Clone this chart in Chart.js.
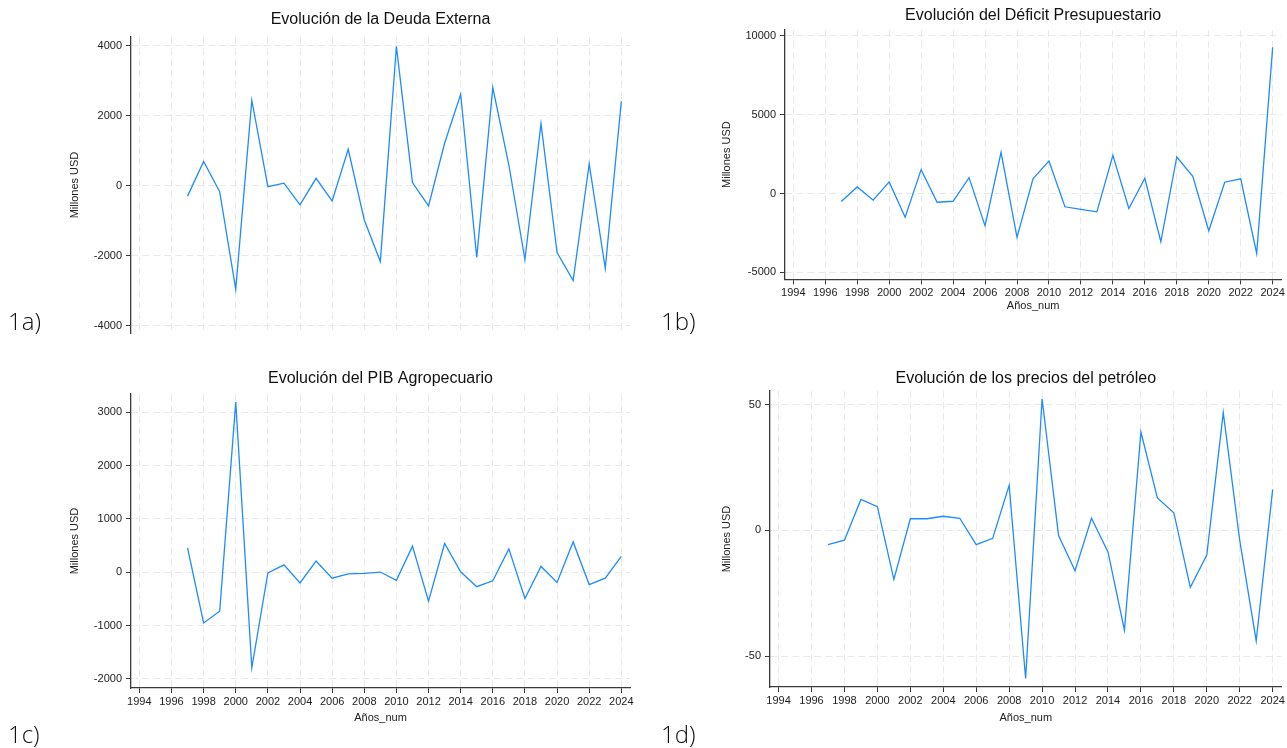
<!DOCTYPE html>
<html>
<head>
<meta charset="utf-8">
<script src="https://cdn.jsdelivr.net/npm/chart.js@4.4.1/dist/chart.umd.min.js"></script>
<style>
html,body{margin:0;padding:0;background:#fff;width:1287px;height:748px;overflow:hidden;}
canvas{position:absolute;}
.lbl{position:absolute;font-family:'Open Sans',sans-serif;font-weight:300;font-size:24px;line-height:24px;color:#111;}
</style>
</head>
<body>
<canvas id="cA" width="640" height="345" style="left:0px;top:0px"></canvas>
<canvas id="cB" width="627" height="330" style="left:660px;top:0px"></canvas>
<canvas id="cC" width="640" height="370" style="left:0px;top:360px"></canvas>
<canvas id="cD" width="627" height="370" style="left:660px;top:360px"></canvas>
<div class="lbl" style="left:8px;top:309px">1a)</div>
<div class="lbl" style="left:661px;top:309px">1b)</div>
<div class="lbl" style="left:8px;top:722px">1c)</div>
<div class="lbl" style="left:661px;top:722px">1d)</div>
<script>
// ---- data ----
const years = [1997,1998,1999,2000,2001,2002,2003,2004,2005,2006,2007,2008,2009,2010,
               2011,2012,2013,2014,2015,2016,2017,2018,2019,2020,2021,2022,2023,2024];
const deudaExterna = [-290,700,-160,-2950,2450,-20,80,-540,220,-430,1050,-970,-2160,3990,
                      100,-570,1220,2620,-2040,2810,600,-2100,1780,-1900,-2700,630,-2350,2420];
const deficitPresupuestario = [-500,420,-420,740,-1500,1520,-550,-490,1010,-2050,2620,-2780,930,2070,
                               -840,-1010,-1160,2430,-950,970,-3060,2320,1100,-2360,720,930,-3800,9280];
const pibAgropecuario = [460,-950,-730,3190,-1790,-10,140,-200,210,-110,-30,-20,5,-150,
                         490,-540,540,10,-270,-160,440,-490,110,-190,570,-230,-110,300];
const preciosPetroleo = [-5.7,-3.9,12.3,9.4,-19.5,4.6,4.6,5.6,4.8,-5.7,-3.2,17.9,-58.9,52.3,
                         -2.1,-16.1,4.8,-8.6,-39.7,39.1,12.9,7.0,-22.7,-9.8,46.8,-4.0,-44.0,16.3];
const xTickLabels = [1994,1996,1998,2000,2002,2004,2006,2008,2010,2012,2014,2016,2018,2020,2022,2024];
const yTicksA = [-4000,-2000,0,2000,4000];
const yTicksB = [-5000,0,5000,10000];
const yTicksC = [-2000,-1000,0,1000,2000,3000];
const yTicksD = [-50,0,50];
const titles = ['Evolución de la Deuda Externa','Evolución del Déficit Presupuestario',
                'Evolución del PIB Agropecuario','Evolución de los precios del petróleo'];
const yTitle = 'Millones USD';
const xTitle = 'Años_num';

Chart.defaults.font.family = "'Liberation Sans', Arial, sans-serif";
Chart.defaults.color = '#222';

const AXIS = '#3a3a3a';
const GRID = '#e9e9e9';
const LINE = '#1e8bff';

function makeChart(id, vals, yTicks, yMin, yMax, title, opt) {
  const ctx = document.getElementById(id);
  return new Chart(ctx, {
    type: 'line',
    data: {
      datasets: [{
        data: years.map((y, i) => ({x: y, y: vals[i]})),
        borderColor: LINE,
        borderWidth: 1.3,
        pointRadius: 0,
        tension: 0,
        fill: false
      }]
    },
    options: {
      responsive: false,
      animation: false,
      events: [],
      layout: {padding: opt.pad},
      plugins: {
        legend: {display: false},
        tooltip: {enabled: false},
        title: {
          display: true, text: title, fullSize: false, color: '#111',
          font: {size: 16, weight: 'normal'},
          padding: opt.titlePad
        }
      },
      scales: {
        x: {
          type: 'linear',
          min: 1993.48, max: 2024.54,
          afterBuildTicks: s => { s.ticks = xTickLabels.map(v => ({value: v})); },
          afterFit: s => { s.height = opt.xH; },
          ticks: {display: opt.showX, callback: v => String(v), font: {size: 11}, color: '#222',
                  padding: 2, autoSkip: false, maxRotation: 0, minRotation: 0},
          grid: {color: GRID, tickColor: AXIS, tickLength: 5, tickBorderDash: [], drawTicks: opt.showX},
          border: {display: opt.showX, color: AXIS, width: 1.3, dash: [7, 4]},
          title: {display: opt.showX, text: xTitle, font: {size: 11}, color: '#222', padding: {top: 0, bottom: 0}}
        },
        y: {
          type: 'linear',
          min: yMin, max: yMax,
          afterBuildTicks: s => { s.ticks = yTicks.map(v => ({value: v})); },
          afterFit: s => { s.width = opt.yW; },
          ticks: {callback: v => String(v), font: {size: 11}, color: '#222', padding: 4},
          grid: {color: GRID, tickColor: AXIS, tickLength: 5, tickBorderDash: []},
          border: {display: true, color: AXIS, width: 1.3, dash: [7, 4]},
          title: {display: true, text: yTitle, font: {size: 11}, color: '#222', padding: {top: opt.yTitlePad, bottom: 0}}
        }
      }
    }
  });
}

makeChart('cA', deudaExterna, yTicksA, -4200, 4257, titles[0],
  {pad: {left: 0, right: 10, top: 0, bottom: 12}, titlePad: {top: 10.4, bottom: 7.4},
   yW: 131, yTitlePad: 68.4, xH: 0, showX: false});
makeChart('cB', deficitPresupuestario, yTicksB, -5443, 10380, titles[1],
  {pad: {left: 0, right: 5.3, top: 0, bottom: 17.4}, titlePad: {top: 6.1, bottom: 4.7},
   yW: 125, yTitlePad: 60.1, xH: 33.3, showX: true});
makeChart('cC', pibAgropecuario, yTicksC, -2169, 3343, titles[2],
  {pad: {left: 0, right: 10, top: 0, bottom: 5.4}, titlePad: {top: 8.7, bottom: 6.1},
   yW: 131, yTitlePad: 68.4, xH: 36.6, showX: true});
makeChart('cD', preciosPetroleo, yTicksD, -62.3, 55.4, titles[3],
  {pad: {left: 0, right: 5.3, top: 0, bottom: 5.4}, titlePad: {top: 8.7, bottom: 3.1},
   yW: 110, yTitlePad: 60.1, xH: 37.6, showX: true});
</script>
</body>
</html>
